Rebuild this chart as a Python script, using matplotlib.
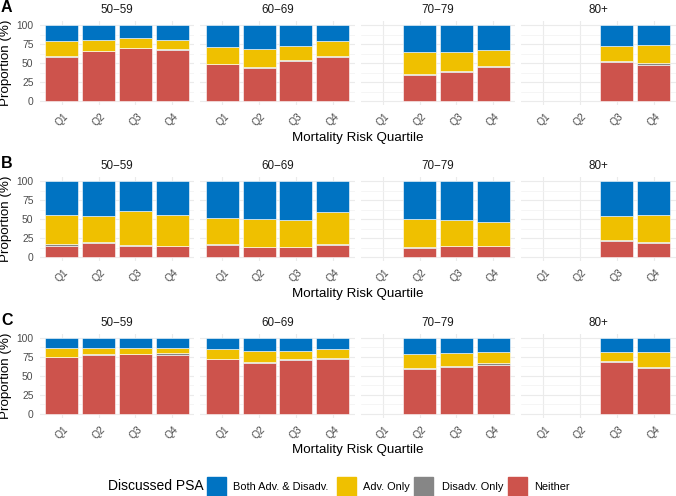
import numpy as np
import matplotlib
matplotlib.use('Agg')
import matplotlib.pyplot as plt
from matplotlib.patches import Rectangle

plt.rcParams['font.family'] = ['Liberation Sans', 'DejaVu Sans']

nan = np.nan

# faixas etarias e quartis de risco
idades = ['50−59', '60−69', '70−79', '80+']
quartis = ['Q1', 'Q2', 'Q3', 'Q4']
paineis = ['A', 'B', 'C']

# proporcoes (%) por faixa etaria: 50-59 Q1..Q4, 60-69 Q1..Q4, 70-79 Q1..Q4, 80+ Q1..Q4
A_neither = [58.1, 65.2, 69.6, 67.8, 48.5, 44.1, 52.9, 58.1, nan, 33.9, 38.3, 44.9, nan, nan, 52.0, 47.6]
A_disadv = [1.4, 0.4, 0.4, 0.9, 0.8, 0.4, 0.8, 0.9, nan, 1.8, 0.9, 1.8, nan, nan, 0.9, 2.2]
A_adv = [18.9, 14.6, 12.8, 11.9, 21.6, 24.2, 19.0, 20.3, nan, 28.2, 25.6, 21.1, nan, nan, 19.3, 23.3]
A_both = [21.6, 19.8, 17.2, 19.4, 29.1, 31.3, 27.3, 20.7, nan, 36.1, 35.2, 32.2, nan, nan, 27.8, 26.9]

B_neither = [14.8, 18.3, 14.0, 14.0, 15.7, 13.1, 12.7, 15.7, nan, 11.4, 14.0, 14.0, nan, nan, 21.4, 18.3]
B_disadv = [1.8, 1.4, 1.3, 0.8, 0.9, 0.4, 0.4, 1.3, nan, 1.3, 0.8, 0.8, nan, nan, 0.9, 1.8]
B_adv = [38.9, 34.4, 45.0, 40.2, 34.5, 36.7, 36.2, 42.0, nan, 37.5, 34.5, 31.1, nan, nan, 31.8, 35.4]
B_both = [44.5, 45.9, 39.7, 45.0, 48.9, 49.8, 50.7, 41.0, nan, 49.8, 50.7, 54.1, nan, nan, 45.9, 44.5]

C_neither = [74.6, 77.2, 78.5, 77.6, 71.5, 67.1, 70.2, 71.9, nan, 58.8, 61.8, 64.5, nan, nan, 68.4, 60.5]
C_disadv = [0.4, 0.9, 0.4, 2.2, 0.4, 1.3, 1.3, 0.9, nan, 1.7, 0.9, 1.7, nan, nan, 0.9, 1.3]
C_adv = [11.8, 8.3, 7.1, 6.2, 13.2, 14.5, 11.4, 12.3, nan, 18.0, 16.7, 14.9, nan, nan, 11.8, 18.9]
C_both = [13.2, 13.6, 14.0, 14.0, 14.9, 17.1, 17.1, 14.9, nan, 21.5, 20.6, 18.9, nan, nan, 18.9, 19.3]

categorias = ['Neither', 'Disadv. Only', 'Adv. Only', 'Both Adv. & Disadv.']
cores = {'Neither': '#CD534C', 'Disadv. Only': '#868686',
         'Adv. Only': '#EFC000', 'Both Adv. & Disadv.': '#0073C2'}

dados = {
    'A': [A_neither, A_disadv, A_adv, A_both],
    'B': [B_neither, B_disadv, B_adv, B_both],
    'C': [C_neither, C_disadv, C_adv, C_both],
}

W, H = 676, 496
fig = plt.figure(figsize=(W / 100, H / 100), dpi=100)

def px(x, y, w=0, h=0):
    # pixels (origem no topo) -> fracao da figura
    return [x / W, 1 - (y + h) / H, w / W, h / H]

esq0, larg, gap = 39.8, 154.5, 6.0
topos = [21.2, 177.2, 333.9]
alt = 83.7
xpos = np.arange(1, 5)

for r, painel in enumerate(paineis):
    topo = topos[r]
    series = [np.array(s, dtype=float) for s in dados[painel]]
    for c, idade in enumerate(idades):
        ax = fig.add_axes(px(esq0 + c * (larg + gap), topo, larg, alt))
        base = np.zeros(4)
        for nome, s in zip(categorias, series):
            vals = s[c * 4:(c + 1) * 4]
            ok = ~np.isnan(vals)
            ax.bar(xpos[ok], vals[ok], bottom=base[ok], width=0.9,
                   color=cores[nome], edgecolor='white', linewidth=0.4, zorder=3)
            base = base + np.nan_to_num(vals)
        ax.set_xlim(0.4, 4.6)
        ax.set_ylim(-5, 105)
        ax.set_xticks(xpos)
        ax.set_xticklabels(quartis, rotation=45, ha='center', va='top',
                           fontsize=7.4, color='#4D4D4D')
        ax.set_yticks([0, 25, 50, 75, 100])
        ax.set_yticks([12.5, 37.5, 62.5, 87.5], minor=True)
        if c == 0:
            ax.set_yticklabels(['0', '25', '50', '75', '100'], fontsize=7.4, color='#4D4D4D')
            ax.set_ylabel('Proportion (%)', fontsize=9.6, labelpad=3)
        else:
            ax.set_yticklabels([])
        ax.tick_params(axis='both', which='both', length=0, pad=4.5)
        ax.grid(True, which='major', color='#EBEBEB', linewidth=0.8, zorder=0)
        ax.grid(True, which='minor', axis='y', color='#F2F2F2', linewidth=0.5, zorder=0)
        for sp in ax.spines.values():
            sp.set_visible(False)
        ax.set_facecolor('white')
        ax.set_title(idade, fontsize=8.4, color='#1A1A1A', pad=6)

    fig.text(1 / W, 1 - (topo - 20.8) / H, painel, fontsize=11.5, fontweight='bold',
             ha='left', va='top')
    fig.text(357.7 / W, 1 - (topo + 116.5) / H, 'Mortality Risk Quartile',
             fontsize=9.6, ha='center', va='center')

# legenda manual
yc = 486.5
fig.text(108 / W, 1 - yc / H, 'Discussed PSA', fontsize=10, ha='left', va='center')
legenda = [('Both Adv. & Disadv.', 207, 233), ('Adv. Only', 337, 363),
           ('Disadv. Only', 414, 442), ('Neither', 508, 534)]
for nome, xk, xt in legenda:
    fig.add_artist(Rectangle((xk / W, 1 - (yc + 9.5) / H), 19 / W, 19 / H,
                             transform=fig.transFigure, color=cores[nome]))
    fig.text(xt / W, 1 - yc / H, nome, fontsize=7.9, ha='left', va='center')

plt.savefig('out.png', dpi=100)
